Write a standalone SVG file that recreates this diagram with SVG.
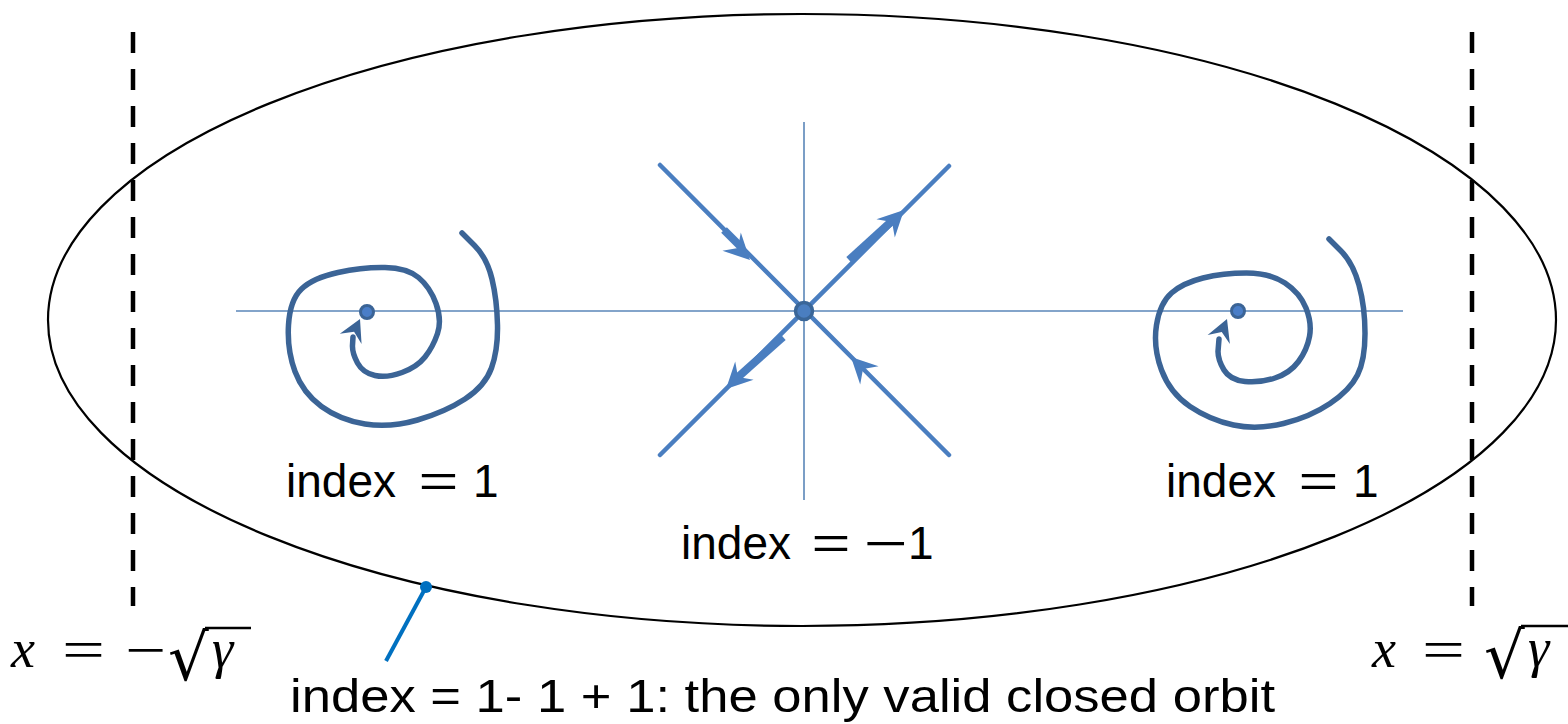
<svg xmlns="http://www.w3.org/2000/svg" xmlns:xlink="http://www.w3.org/1999/xlink" width="1568" height="724" viewBox="0 0 1568 724">
<style>
.axis{stroke:#5a86b8;stroke-width:1.6;fill:none}
.sad{stroke:#4a7ec0;stroke-width:4.5;fill:none;stroke-linecap:round}
.thick{stroke:#4a7ec0;stroke-width:8;fill:none}
.spiral{stroke:#3b6496;stroke-width:5.5;fill:none;stroke-linecap:round;stroke-linejoin:round}
.dash{stroke:#000;stroke-width:4.5;stroke-dasharray:21 16;fill:none}
.lbl{font-family:"Liberation Sans","DejaVu Sans",sans-serif;font-size:46px;fill:#000}
.math{font-family:"Liberation Serif","DejaVu Serif",serif;font-size:54px;fill:#000}
.rad{font-family:"DejaVu Serif","Liberation Serif",serif;font-size:64px;fill:#000}
.it{font-style:italic}
</style>
<defs>
<polygon id="sah" points="0,0 -26,-13 -17,0 -26,13" fill="#4a7ec0"/>
<polygon id="sph" points="0,0 -22,-12 -14,0 -22,12" fill="#3b6496"/>
</defs>
<g id="boundaries">
<line class="dash" x1="133" y1="32" x2="133" y2="606"/>
<line class="dash" x1="1472" y1="32" x2="1472" y2="606"/>
</g>
<g id="orbit">
<ellipse cx="802" cy="320" rx="754" ry="306" fill="none" stroke="#000" stroke-width="2.2"/>
</g>
<g id="axes">
<line class="axis" x1="236" y1="311" x2="1403" y2="311"/>
<line class="axis" x1="804" y1="122" x2="804" y2="500"/>
</g>
<g id="saddle">
<line class="sad" x1="660" y1="165" x2="949" y2="455"/>
<line class="sad" x1="660" y1="455" x2="949" y2="166"/>
<line class="thick" x1="724" y1="230" x2="742" y2="248"/>
<line class="thick" x1="849" y1="260" x2="893" y2="220"/>
<line class="thick" x1="783" y1="337" x2="737" y2="378"/>
<use xlink:href="#sah" transform="translate(750,260) rotate(45)"/>
<use xlink:href="#sah" transform="translate(904,210) rotate(-45)"/>
<use xlink:href="#sah" transform="translate(726,389) rotate(135)"/>
<use xlink:href="#sah" transform="translate(851,357) rotate(-135)"/>
<circle cx="804" cy="311" r="8.5" fill="#4a7ec0" stroke="#3a6698" stroke-width="3.5"/>
</g>
<g id="spiral-left">
<path class="spiral" d="M462,233 L474.5,245.5 Q487,258 492,279 Q497,300 497.5,325 Q498,350 491.5,368 Q485,386 465,399 Q445,412 417.5,420 Q390,428 365,424 Q340,420 321.5,406.5 Q303,393 295,371.5 Q287,350 288.5,325 Q290,300 301.5,289 Q313,278 338,272.5 Q363,267 385,267.5 Q407,268 418.5,277.5 Q430,287 436,303.5 Q442,320 437.5,333.5 Q433,347 425,357 Q417,367 402,372.5 Q387,378 375,375.5 Q363,373 357.5,363 Q352,353 352.5,345 L353,337"/>
<use xlink:href="#sph" transform="translate(360,319) rotate(-65)"/>
<circle cx="367" cy="312" r="6.5" fill="#4a7ec8" stroke="#3b6496" stroke-width="3"/>
</g>
<g id="spiral-right">
<path class="spiral" d="M1329,239 L1341,251 Q1353,263 1359,285 Q1365,307 1365,333.5 Q1365,360 1357.5,375 Q1350,390 1330,403.5 Q1310,417 1283.5,423.5 Q1257,430 1233.5,425 Q1210,420 1190,406.5 Q1170,393 1161.5,370 Q1153,347 1156.5,325 Q1160,303 1171.5,293 Q1183,283 1203,278 Q1223,273 1246.5,273 Q1270,273 1285,283 Q1300,293 1306,308 Q1312,323 1309.5,336.5 Q1307,350 1298.5,361.5 Q1290,373 1275,378 Q1260,383 1245,381.5 Q1230,380 1224,370 Q1218,360 1218,351.5 L1219,339"/>
<use xlink:href="#sph" transform="translate(1227,319) rotate(-68)"/>
<circle cx="1238" cy="311" r="6.5" fill="#4a7ec8" stroke="#3b6496" stroke-width="3"/>
</g>
<g id="label-left">
<text class="lbl" x="286" y="497">index</text>
<text class="lbl" x="418.5" y="497" textLength="40" lengthAdjust="spacingAndGlyphs">=</text>
<text class="lbl" x="473" y="497">1</text>
</g>
<g id="label-middle">
<text class="lbl" x="681" y="559">index</text>
<text class="lbl" x="811.5" y="559" textLength="39" lengthAdjust="spacingAndGlyphs">=</text>
<text class="lbl" x="864" y="559" textLength="44" lengthAdjust="spacingAndGlyphs">−</text>
<text class="lbl" x="908" y="559">1</text>
</g>
<g id="label-right">
<text class="lbl" x="1166" y="497">index</text>
<text class="lbl" x="1298.5" y="497" textLength="40" lengthAdjust="spacingAndGlyphs">=</text>
<text class="lbl" x="1353" y="497">1</text>
</g>
<g id="pointer">
<line x1="386" y1="661" x2="426" y2="587" stroke="#0070c0" stroke-width="4"/>
<circle cx="426" cy="587" r="6" fill="#0070c0"/>
<text class="lbl" x="290" y="712" font-size="47" textLength="985" lengthAdjust="spacingAndGlyphs">index = 1- 1 + 1: the only valid closed orbit</text>
</g>
<g id="math-left">
<text class="math it" x="11" y="667">x</text>
<text class="math" x="62" y="668" textLength="43" lengthAdjust="spacingAndGlyphs">=</text>
<text class="math" x="125" y="668" textLength="41" lengthAdjust="spacingAndGlyphs">−</text>
<text class="rad" x="168" y="680">√</text>
<line x1="205" y1="628" x2="251" y2="628" stroke="#000" stroke-width="2.5"/>
<text class="math it" x="212" y="667" font-size="58">γ</text>
</g>
<g id="math-right">
<text class="math it" x="1372" y="667">x</text>
<text class="math" x="1422" y="668" textLength="43" lengthAdjust="spacingAndGlyphs">=</text>
<text class="rad" x="1484" y="678">√</text>
<line x1="1521" y1="626" x2="1568" y2="626" stroke="#000" stroke-width="2.5"/>
<text class="math it" x="1528" y="666" font-size="58">γ</text>
</g>
</svg>
